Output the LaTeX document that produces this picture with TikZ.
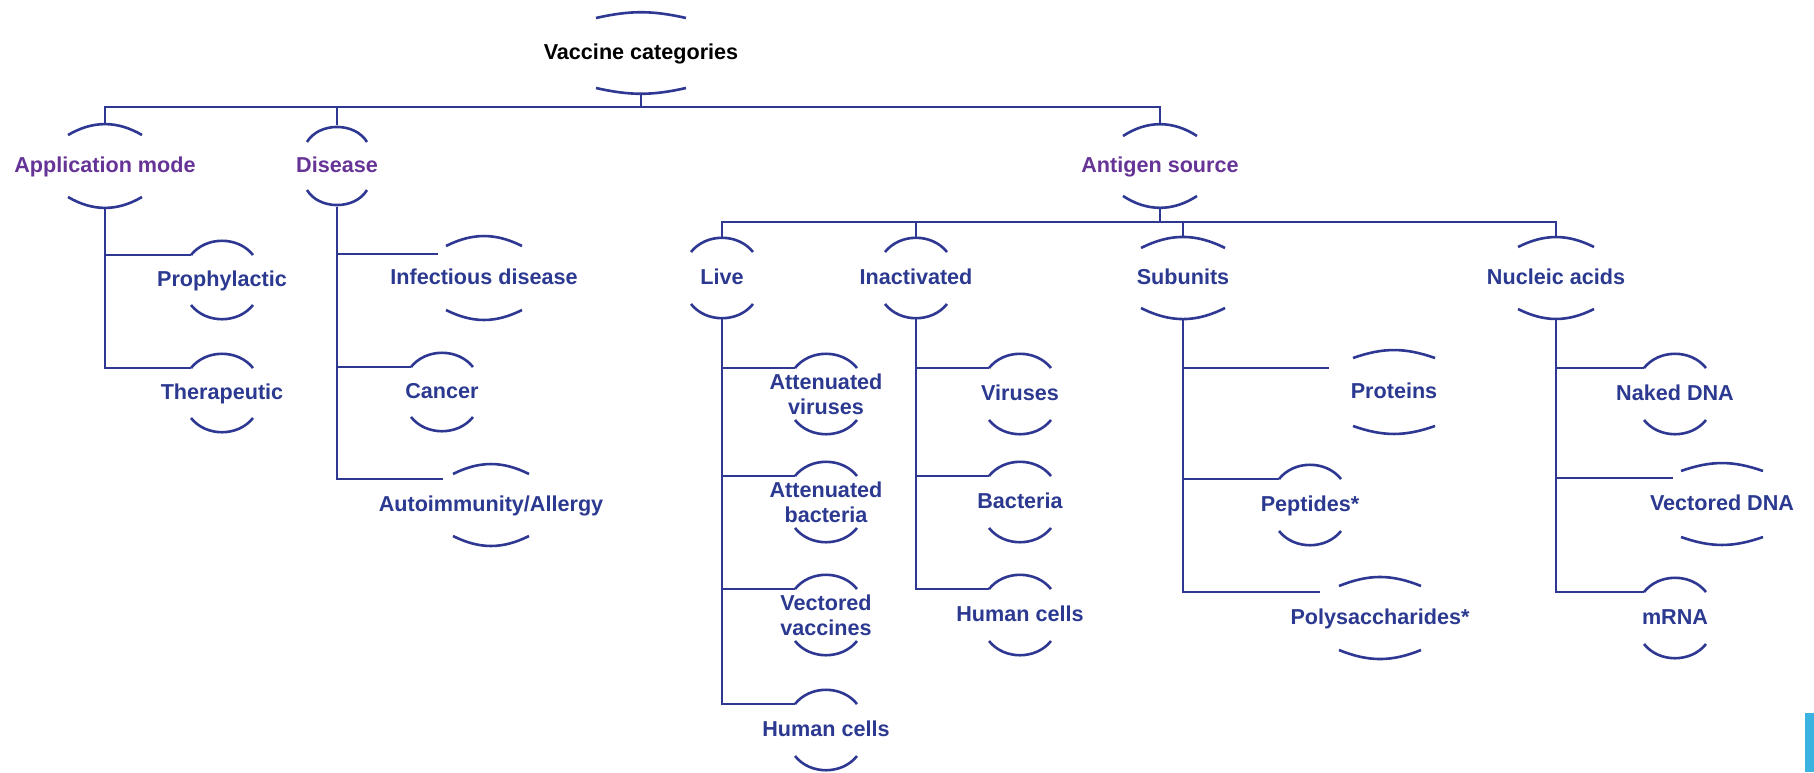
\documentclass[tikz,border=0pt]{standalone}
\usepackage{fontspec}
\setmainfont{Liberation Sans}
\definecolor{lineblue}{RGB}{46,56,146}
\definecolor{txtblue}{RGB}{43,57,144}
\definecolor{txtpurple}{RGB}{102,52,150}
\definecolor{barblue}{RGB}{59,179,224}
\tikzset{
  conn/.style={draw=lineblue, line width=1.3pt},
  arcline/.style={draw=lineblue, line width=1.3pt},
  lbl/.style={font=\fontsize{10.8}{12.5}\selectfont\bfseries, inner sep=0pt, text height=1.45ex, text depth=0.3ex, align=center},
  lbltwo/.style={font=\fontsize{10.8}{12.5}\selectfont\bfseries, inner sep=0pt, align=center},
  cblue/.style={text=txtblue},
  cpurple/.style={text=txtpurple},
  cblack/.style={text=black},
}
% name, cx, cy, half-width, drop, radius, style, text
\newcommand\bnode[8]{%
  \node[#7] (#1) at (#2,#3) {#8};
  \coordinate (#1-t) at (#2,#3-#6);
  \coordinate (#1-b) at (#2,#3+#6);
  \coordinate (#1-tl) at (#2-#4,#3-#6+#5);
  \pgfmathsetmacro\bendang{2*atan(#5/#4)}
  \draw[arcline] (#2-#4,#3-#6+#5) to[bend left=\bendang] (#2+#4,#3-#6+#5);
  \draw[arcline] (#2-#4,#3+#6-#5) to[bend right=\bendang] (#2+#4,#3+#6-#5);
}
\begin{document}
\begin{tikzpicture}[x=0.5pt,y=-0.5pt]
\useasboundingbox (0,0) rectangle (1814,772);
% level 0/1
\bnode{VC}{641}{53}{45}{5}{40}{lbl,cblack}{Vaccine categories}
\bnode{AM}{105}{166}{37}{10}{41}{lbl,cpurple}{Application mode}
\bnode{DI}{337}{166}{30}{17}{41}{lbl,cpurple}{Disease}
\bnode{AS}{1160}{166}{37}{11}{41}{lbl,cpurple}{Antigen source}
% antigen sources
\bnode{LV}{722}{278}{31}{15}{41}{lbl,cblue}{Live}
\bnode{IN}{916}{278}{31}{15}{41}{lbl,cblue}{Inactivated}
\bnode{SU}{1183}{278}{42}{10}{40}{lbl,cblue}{Subunits}
\bnode{NA}{1556}{278}{38}{9}{40}{lbl,cblue}{Nucleic acids}
% application mode children
\bnode{PR}{222}{280}{31}{15}{40}{lbl,cblue}{Prophylactic}
\bnode{TH}{222}{393}{31}{15}{40}{lbl,cblue}{Therapeutic}
% disease children
\bnode{ID}{484}{278}{38}{9}{41}{lbl,cblue}{Infectious disease}
\bnode{CA}{442}{392}{31}{15}{40}{lbl,cblue}{Cancer}
\bnode{AA}{491}{505}{38}{9}{40}{lbl,cblue}{Autoimmunity/Allergy}
% live children
\bnode{AV}{826}{394}{31}{15}{41}{lbltwo,cblue}{Attenuated\\viruses}
\bnode{AB}{826}{502}{31}{15}{41}{lbltwo,cblue}{Attenuated\\bacteria}
\bnode{VV}{826}{615}{31}{15}{41}{lbltwo,cblue}{Vectored\\vaccines}
\bnode{HL}{826}{730}{31}{15}{41}{lbl,cblue}{Human cells}
% inactivated children
\bnode{VI}{1020}{394}{31}{15}{41}{lbl,cblue}{Viruses}
\bnode{BA}{1020}{502}{31}{15}{41}{lbl,cblue}{Bacteria}
\bnode{HI}{1020}{615}{31}{15}{41}{lbl,cblue}{Human cells}
% subunit children
\bnode{PO}{1394}{392}{41}{7}{41}{lbl,cblue}{Proteins}
\bnode{PE}{1310}{505}{31}{15}{41}{lbl,cblue}{Peptides*}
\bnode{PS}{1380}{618}{41}{8}{40}{lbl,cblue}{Polysaccharides*}
% nucleic acid children
\bnode{ND}{1675}{394}{31}{15}{41}{lbl,cblue}{Naked DNA}
\bnode{VD}{1722}{504}{41}{7}{40}{lbl,cblue}{Vectored DNA}
\bnode{MR}{1675}{618}{31}{15}{41}{lbl,cblue}{mRNA}
% join points for branches that stop short of their arcs
\coordinate (ID-j) at (438,254);
\coordinate (AA-j) at (443,479);
\coordinate (PO-j) at (1329,368);
\coordinate (PS-j) at (1320,592);
\coordinate (VD-j) at (1673,478);
\coordinate (L1) at (0,107);
\coordinate (L2) at (0,222);
% top level connectors
\draw[conn] (VC-b) -- (VC-b |- L1);
\draw[conn] (AM-t) -- (AM-t |- L1) -- (AS-t |- L1) -- (AS-t);
\draw[conn] (DI-t) -- (DI-t |- L1);
% antigen source connectors
\draw[conn] (AS-b) -- (AS-b |- L2);
\draw[conn] (LV-t) -- (LV-t |- L2) -- (NA-t |- L2) -- (NA-t);
\draw[conn] (IN-t) -- (IN-t |- L2);
\draw[conn] (SU-t) -- (SU-t |- L2);
% branches
\draw[conn] (AM-b) |- (PR-tl);
\draw[conn] (AM-b) |- (TH-tl);
\draw[conn] (DI-b) |- (ID-j);
\draw[conn] (DI-b) |- (CA-tl);
\draw[conn] (DI-b) |- (AA-j);
\draw[conn] (LV-b) |- (AV-tl);
\draw[conn] (LV-b) |- (AB-tl);
\draw[conn] (LV-b) |- (VV-tl);
\draw[conn] (LV-b) |- (HL-tl);
\draw[conn] (IN-b) |- (VI-tl);
\draw[conn] (IN-b) |- (BA-tl);
\draw[conn] (IN-b) |- (HI-tl);
\draw[conn] (SU-b) |- (PO-j);
\draw[conn] (SU-b) |- (PE-tl);
\draw[conn] (SU-b) |- (PS-j);
\draw[conn] (NA-b) |- (ND-tl);
\draw[conn] (NA-b) |- (VD-j);
\draw[conn] (NA-b) |- (MR-tl);
% edge bar
\fill[barblue] (1805,713) rectangle (1814,772);
\end{tikzpicture}
\end{document}
